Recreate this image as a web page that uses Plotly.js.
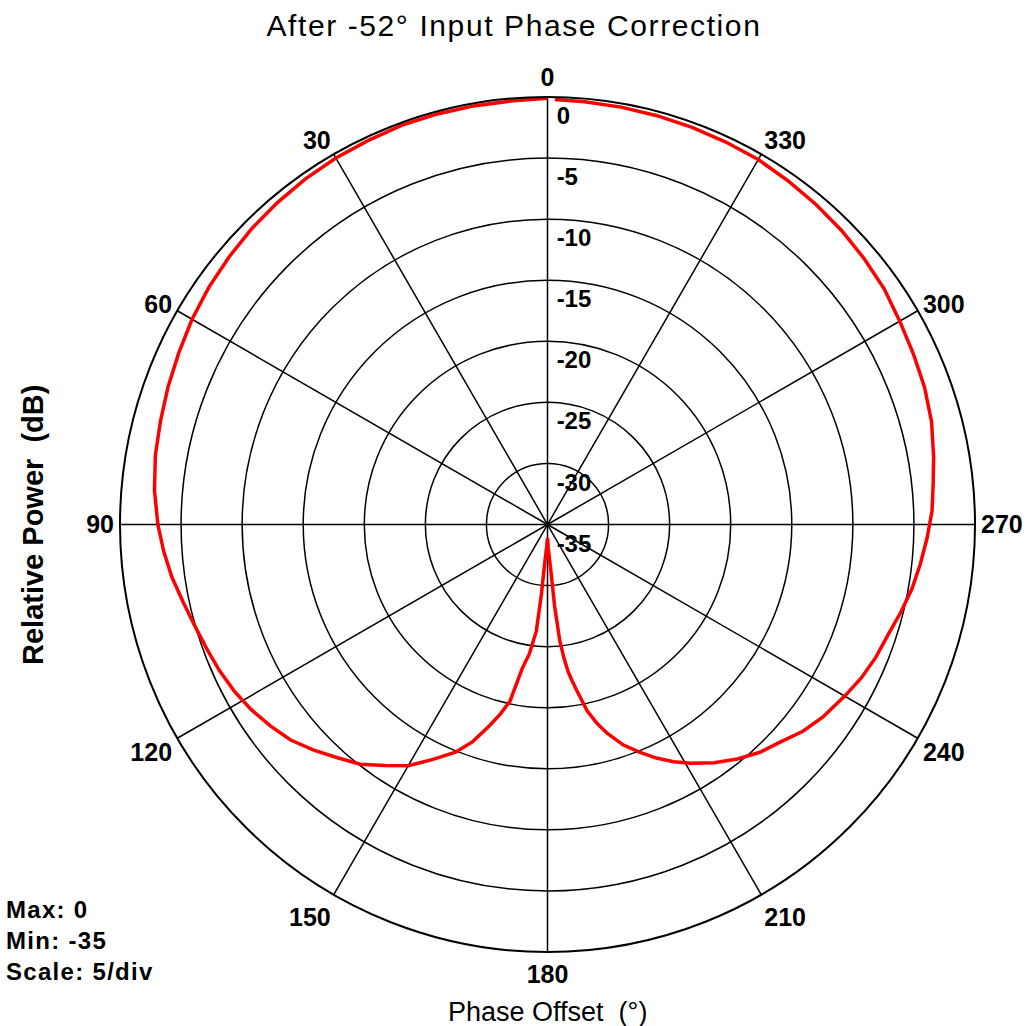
<!DOCTYPE html>
<html>
<head>
<meta charset="utf-8">
<script src="https://cdn.plot.ly/plotly-3.0.1.min.js"></script>
<style>
html, body { margin: 0; padding: 0; background: #fff; }
#chart { width: 1032px; height: 1026px; }
#chart .gtitle { letter-spacing: 1.6px; }
#chart g.annotation[data-index="2"] text { letter-spacing: 1.3px; }
</style>
</head>
<body>
<div id="chart"></div>
<script>
// Phase offset (degrees) and relative power (dB)
var phaseDeg = [0, 5, 10, 15, 20, 25, 30, 35, 40, 45, 50, 55, 60, 65, 70, 75, 80, 85, 90,
  94, 98, 102, 106, 110, 114, 118, 122, 126, 130, 134, 138, 142, 146, 150, 154, 158, 161,
  164, 166, 168, 170, 172, 174, 175, 176, 178, 180, 182, 184, 185, 186, 187, 188, 189, 190,
  192, 194, 196, 199, 202, 205, 208, 211, 215, 219, 223, 227, 231, 235, 240, 244, 248, 252,
  256, 260, 264, 268, 272, 276, 280, 285, 290, 295, 300, 305, 310, 315, 320, 325, 330, 335,
  340, 345, 350, 355, 359];
var powerDb = [-0.1, -0.2, -0.2, -0.2, -0.2, -0.3, -0.35, -0.45, -0.6, -0.75, -0.95, -1.15, -1.4,
  -1.7, -1.95, -2.2, -2.4, -2.7, -3.1,
  -3.5, -3.95, -4.5, -4.95, -5.3, -5.6, -5.95, -6.4, -6.95, -7.55, -8.4, -9.3, -10.1, -11.2,
  -12.2, -13.6, -14.9, -16.2,
  -17.9, -19.0, -20.2, -23.0, -24.3, -26.2, -29.2, -32.0, -33.2, -33.9, -33.0, -31.5, -28.3,
  -25.5, -24.0, -22.8, -22.0, -21.2,
  -19.4, -18.2, -17.2, -15.9, -14.9, -13.9, -13.0, -12.2, -11.2, -10.3, -9.5, -8.9, -8.1, -7.5,
  -6.9, -6.4, -6.0, -5.7,
  -5.2, -4.7, -4.3, -3.9, -3.5, -3.25, -2.9, -2.45, -2.15, -1.95, -1.7, -1.35, -1.15, -0.95,
  -0.8, -0.65, -0.5, -0.45,
  -0.4, -0.35, -0.3, -0.25, -0.2];

// Axis ticks
var angleTicks = [0, 30, 60, 90, 120, 150, 180, 210, 240, 270, 300, 330];
var angleTickText = ['0', '30', '60', '90', '120', '150', '180', '210', '240', '270', '300', '330'];
var radialTicks = [0, -5, -10, -15, -20, -25, -30, -35];
var radialTickText = ['0', '-5', '-10', '-15', '-20', '-25', '-30', '-35'];
var radialLabelTheta = radialTicks.map(function () { return 0; });

var FONT = 'Liberation Sans, Arial, sans-serif';

var traces = [
  {
    type: 'scatterpolar',
    r: powerDb,
    theta: phaseDeg,
    mode: 'lines',
    line: { color: '#ff0000', width: 3.5 },
    hoverinfo: 'skip',
    showlegend: false
  },
  {
    type: 'scatterpolar',
    r: radialTicks,
    theta: radialLabelTheta,
    text: radialTickText,
    mode: 'markers+text',
    marker: { size: 13, color: 'rgba(0,0,0,0)' },
    textposition: 'bottom right',
    textfont: { family: FONT, size: 24, color: '#000', weight: 'bold' },
    cliponaxis: false,
    hoverinfo: 'skip',
    showlegend: false
  }
];

var layout = {
  width: 1032,
  height: 1026,
  autosize: false,
  margin: { l: 0, r: 0, t: 0, b: 0 },
  paper_bgcolor: '#fff',
  showlegend: false,
  title: {
    text: 'After -52° Input Phase Correction',
    font: { family: FONT, size: 30, color: '#000' },
    x: 0.498, xanchor: 'center', xref: 'paper',
    y: 1 - 25 / 1026, yanchor: 'middle', yref: 'container'
  },
  polar: {
    domain: { x: [120 / 1032, 975 / 1032], y: [74 / 1026, 929 / 1026] },
    bgcolor: '#fff',
    angularaxis: {
      rotation: 90,
      direction: 'counterclockwise',
      tickmode: 'array',
      tickvals: angleTicks,
      ticktext: angleTickText,
      ticksuffix: '',
      tickfont: { family: FONT, size: 25, color: '#000', weight: 'bold' },
      ticks: '',
      showline: true,
      linecolor: '#000',
      linewidth: 2,
      showgrid: true,
      gridcolor: '#000',
      gridwidth: 1.5
    },
    radialaxis: {
      range: [-35, 0],
      angle: 90,
      tickmode: 'array',
      tickvals: radialTicks,
      showticklabels: false,
      ticks: '',
      showline: false,
      showgrid: true,
      gridcolor: '#000',
      gridwidth: 1.5
    }
  },
  annotations: [
    {
      text: 'Relative Power  (dB)',
      xref: 'paper', yref: 'paper',
      x: 33 / 1032, y: 1 - 525 / 1026,
      xanchor: 'center', yanchor: 'middle',
      textangle: -90,
      showarrow: false,
      font: { family: FONT, size: 29, color: '#000', weight: 'bold' }
    },
    {
      text: 'Phase Offset  (°)',
      xref: 'paper', yref: 'paper',
      x: 547 / 1032, y: 1 - 1012 / 1026,
      xanchor: 'center', yanchor: 'middle',
      showarrow: false,
      font: { family: FONT, size: 27, color: '#000' }
    },
    {
      text: 'Max: 0<br>Min: -35<br>Scale: 5/div',
      xref: 'paper', yref: 'paper',
      x: 4 / 1032, y: 1 - 940 / 1026,
      xanchor: 'left', yanchor: 'middle',
      align: 'left',
      showarrow: false,
      font: { family: FONT, size: 24, color: '#000', weight: 'bold' }
    }
  ]
};

Plotly.newPlot('chart', traces, layout, { displayModeBar: false, staticPlot: true });
</script>
</body>
</html>
